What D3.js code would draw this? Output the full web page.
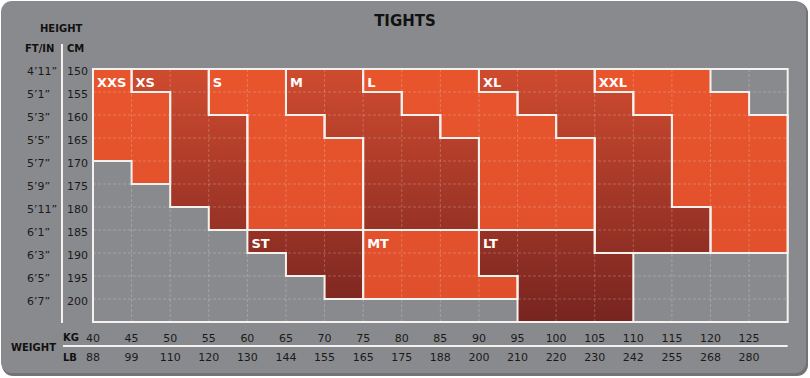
<!DOCTYPE html>
<html><head><meta charset="utf-8">
<script src="https://cdn.jsdelivr.net/npm/d3@7"></script>
<style>html,body{margin:0;padding:0;background:#fff;}svg{display:block;}</style>
</head><body>
<script>
// ---- data ----
const kgTicks = [40,45,50,55,60,65,70,75,80,85,90,95,100,105,110,115,120,125];
const lbTicks = [88,99,110,120,130,144,155,165,175,188,200,210,220,230,242,255,268,280];
const cmTicks = [150,155,160,165,170,175,180,185,190,195,200];
const ftTicks = ["4’11”","5’1”","5’3”","5’5”","5’7”","5’9”","5’11”","6’1”","6’3”","6’5”","6’7”"];
// each size: [kg from, cm from, cm to] per 5 kg column
const XXS = [[40,150,170],[45,155,175]];
const XS  = [[45,150,155],[50,150,180],[55,160,185]];
const S   = [[55,150,160],[60,150,185],[65,160,185],[70,165,185]];
const M   = [[65,150,160],[70,150,165],[75,155,185],[80,160,185],[85,165,185]];
const L   = [[75,150,155],[80,150,160],[85,150,165],[90,155,185],[95,160,185],[100,165,185]];
const XL  = [[90,150,155],[95,150,160],[100,150,165],[105,155,190],[110,160,190],[115,180,190]];
const XXL = [[105,150,155],[110,150,160],[115,150,180],[120,155,190],[125,160,190]];
const ST  = [[60,185,190],[65,185,195],[70,185,200]];
const MT  = [[75,185,200],[80,185,200],[85,185,200],[90,195,200]];
const LT  = [[90,185,195],[95,185,205],[100,185,205],[105,190,205]];
const sizeNames = ["XXS","XS","S","M","L","XL","XXL","ST","MT","LT"];
const sizeCols  = [XXS,XS,S,M,L,XL,XXL,ST,MT,LT];
const sizeTone  = ["light","dark","light","dark","light","dark","light","dark","light","dark"];

// ---- drawing ----
const W = 810, H = 378;
const svg = d3.select("body").append("svg").attr("width", W).attr("height", H);
const defs = svg.append("defs");
const x = d3.scaleLinear().domain([40,130]).range([93,787.7]);
const y = d3.scaleLinear().domain([150,205]).range([69,322]);

const gDark = defs.append("linearGradient").attr("id","gDark")
  .attr("gradientUnits","userSpaceOnUse").attr("x1",0).attr("x2",0).attr("y1",y(150)).attr("y2",y(205));
gDark.append("stop").attr("offset",0).attr("stop-color","#cf4b2f");
gDark.append("stop").attr("offset",1).attr("stop-color","#772420");
const gLight = defs.append("linearGradient").attr("id","gLight")
  .attr("gradientUnits","userSpaceOnUse").attr("x1",0).attr("x2",0).attr("y1",y(150)).attr("y2",y(205));
gLight.append("stop").attr("offset",0).attr("stop-color","#e8552d");
gLight.append("stop").attr("offset",1).attr("stop-color","#df4f2c");

// card
svg.append("rect").attr("x",2).attr("y",2).attr("width",806).attr("height",374).attr("rx",11).attr("fill","#727377");
svg.append("rect").attr("x",1).attr("y",1).attr("width",805).attr("height",372).attr("rx",11).attr("fill","#898a8e");

// plot background
svg.append("rect").attr("x",x(40)).attr("y",y(150)).attr("width",x(130)-x(40)).attr("height",y(205)-y(150))
  .attr("fill","#898a8e");

// region fills
function regionPath(cols){
  const top = [], bot = [];
  cols.forEach(c => {
    top.push([x(c[0]), y(c[1])], [x(c[0]+5), y(c[1])]);
    bot.push([x(c[0]), y(c[2])], [x(c[0]+5), y(c[2])]);
  });
  const pts = top.concat(bot.reverse());
  return "M" + pts.map(p => p[0].toFixed(2)+","+p[1].toFixed(2)).join("L") + "Z";
}
const regions = sizeNames.map((n,i) => ({name:n, cols:sizeCols[i], tone:sizeTone[i]}));
svg.append("g").selectAll("path").data(regions).join("path")
  .attr("d", d => regionPath(d.cols))
  .attr("fill", d => d.tone === "dark" ? "url(#gDark)" : "url(#gLight)");

// dashed grid
const grid = svg.append("g").attr("stroke","#ffffff").attr("stroke-opacity",0.22)
  .attr("stroke-width",1).attr("stroke-dasharray","3,2");
grid.selectAll("line.v").data(kgTicks.slice(1)).join("line").attr("class","v")
  .attr("x1", d => x(d)).attr("x2", d => x(d)).attr("y1", y(150)).attr("y2", y(205));
grid.selectAll("line.h").data(cmTicks.slice(1)).join("line").attr("class","h")
  .attr("x1", x(40)).attr("x2", x(130)).attr("y1", d => y(d)).attr("y2", d => y(d));

// outlines
svg.append("g").selectAll("path").data(regions).join("path")
  .attr("d", d => regionPath(d.cols))
  .attr("fill","none").attr("stroke","#f4f1ee").attr("stroke-width",2).attr("stroke-linejoin","miter");
svg.append("rect").attr("x",x(40)).attr("y",y(150)).attr("width",x(130)-x(40)).attr("height",y(205)-y(150))
  .attr("fill","none").attr("stroke","#f4f1ee").attr("stroke-width",2);

// size labels
svg.append("g").selectAll("text").data(regions).join("text")
  .attr("x", d => x(d.cols[0][0]) + 4)
  .attr("y", d => y(d.cols[0][1]) + 17.5)
  .attr("fill","#ffffff").attr("font-family","DejaVu Sans").attr("font-weight","bold").attr("font-size",13)
  .text(d => d.name);

// title
svg.append("text").attr("x",405).attr("y",25.5).attr("text-anchor","middle")
  .attr("font-family","DejaVu Sans").attr("font-weight","bold").attr("font-size",15).attr("fill","#111")
  .text("TIGHTS");

const font = "DejaVu Sans";
// height headers
svg.append("text").attr("x",40).attr("y",32).attr("font-family",font).attr("font-weight","bold")
  .attr("font-size",10).attr("fill","#111").text("HEIGHT");
svg.append("text").attr("x",25).attr("y",52).attr("font-family",font).attr("font-weight","bold")
  .attr("font-size",10).attr("fill","#111").text("FT/IN");
svg.append("text").attr("x",67).attr("y",52).attr("font-family",font).attr("font-weight","bold")
  .attr("font-size",10).attr("fill","#111").text("CM");
svg.append("line").attr("x1",62).attr("x2",62).attr("y1",44).attr("y2",323)
  .attr("stroke","#f4f1ee").attr("stroke-width",2);

// height tick labels
svg.append("g").selectAll("text").data(cmTicks).join("text")
  .attr("x",67).attr("y", d => y(d) + 5.5)
  .attr("font-family",font).attr("font-size",11).attr("fill","#1a1a1a").text(d => d);
svg.append("g").selectAll("text").data(ftTicks).join("text")
  .attr("x",27).attr("y", (d,i) => y(cmTicks[i]) + 5.5)
  .attr("font-family",font).attr("font-size",11).attr("fill","#1a1a1a").text(d => d);

// weight axis
svg.append("text").attr("x",11).attr("y",351).attr("font-family",font).attr("font-weight","bold")
  .attr("font-size",10).attr("fill","#111").text("WEIGHT");
svg.append("text").attr("x",63).attr("y",341).attr("font-family",font).attr("font-weight","bold")
  .attr("font-size",10).attr("fill","#111").text("KG");
svg.append("text").attr("x",63).attr("y",361).attr("font-family",font).attr("font-weight","bold")
  .attr("font-size",10).attr("fill","#111").text("LB");
svg.append("line").attr("x1",63).attr("x2",x(130)).attr("y1",346).attr("y2",346)
  .attr("stroke","#f4f1ee").attr("stroke-width",2);
svg.append("g").selectAll("text").data(kgTicks).join("text")
  .attr("x", d => x(d) + (d === 40 ? 0 : 0)).attr("y",341.5).attr("text-anchor","middle")
  .attr("font-family",font).attr("font-size",11).attr("fill","#1a1a1a").text(d => d);
svg.append("g").selectAll("text").data(lbTicks).join("text")
  .attr("x", (d,i) => x(kgTicks[i])).attr("y",361).attr("text-anchor","middle")
  .attr("font-family",font).attr("font-size",11).attr("fill","#1a1a1a").text(d => d);
</script>
</body></html>
